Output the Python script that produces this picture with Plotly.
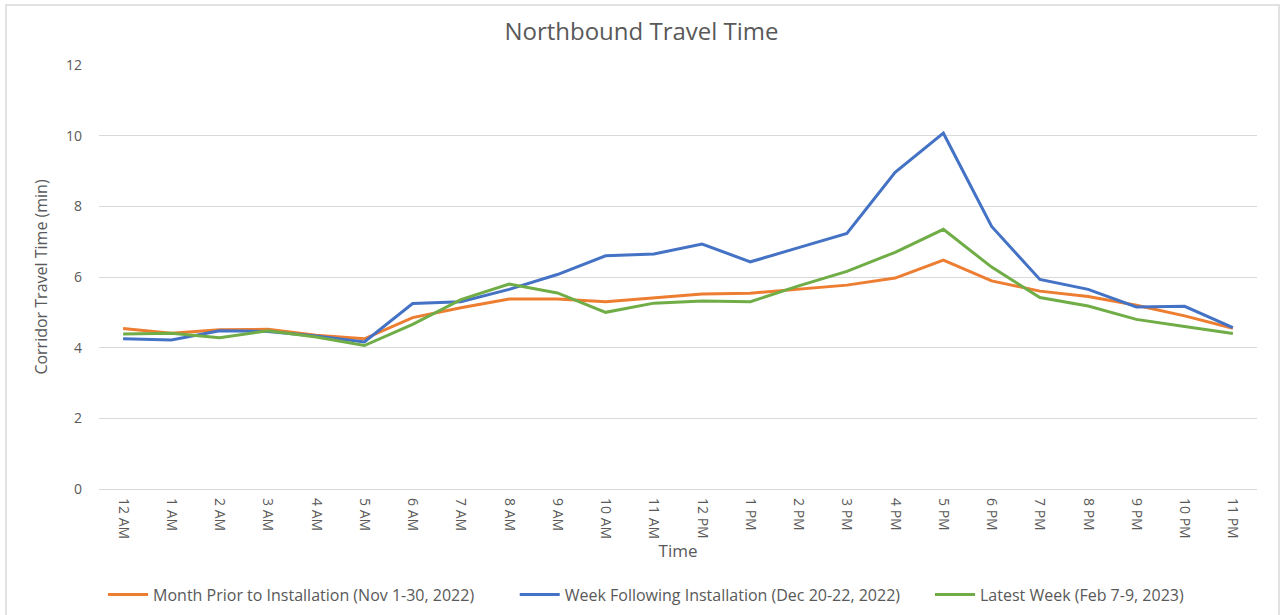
import plotly.graph_objects as go

# hourly corridor travel times (minutes)
hours = ["12 AM", "1 AM", "2 AM", "3 AM", "4 AM", "5 AM", "6 AM", "7 AM", "8 AM", "9 AM",
         "10 AM", "11 AM", "12 PM", "1 PM", "2 PM", "3 PM", "4 PM", "5 PM", "6 PM", "7 PM",
         "8 PM", "9 PM", "10 PM", "11 PM"]

month_prior = [4.54, 4.41, 4.51, 4.52, 4.35, 4.25, 4.85, 5.13, 5.38, 5.38,
               5.30, 5.41, 5.52, 5.54, 5.65, 5.77, 5.97, 6.48, 5.89, 5.60,
               5.45, 5.20, 4.90, 4.55]
week_following = [4.25, 4.22, 4.48, 4.46, 4.33, 4.16, 5.25, 5.30, 5.65, 6.07,
                  6.60, 6.65, 6.93, 6.43, 6.83, 7.23, 8.96, 10.07, 7.43, 5.93,
                  5.65, 5.15, 5.17, 4.57]
latest_week = [4.39, 4.41, 4.28, 4.48, 4.30, 4.06, 4.66, 5.36, 5.80, 5.55,
               5.00, 5.26, 5.32, 5.30, 5.75, 6.16, 6.70, 7.35, 6.28, 5.42,
               5.18, 4.80, 4.60, 4.40]

series_names = ["Month Prior to Installation (Nov 1-30, 2022)",
                "Week Following Installation (Dec 20-22, 2022)",
                "Latest Week (Feb 7-9, 2023)"]
colors = ["#ED7D31", "#4472C4", "#70AD47"]

text_color = "#595959"
grid_color = "#d9d9d9"
font_family = "Open Sans, sans-serif"

# one legend per series so each entry sits where the original puts it
legend_ids = ["legend", "legend2", "legend3"]
legend_x = [0.0035, 0.359, 0.7176]

fig = go.Figure()
for name, vals, col, lg in zip(series_names, [month_prior, week_following, latest_week],
                               colors, legend_ids):
    fig.add_trace(go.Scatter(x=hours, y=vals, mode="lines", name=name, legend=lg,
                             showlegend=True, line=dict(color=col, width=3)))

fig.update_xaxes(type="category", range=[-0.5, 23.5], tickangle=90,
                 showgrid=False, showline=False, ticks="", automargin=False,
                 ticklabelstandoff=8,
                 tickfont=dict(size=14, color=text_color),
                 title=dict(text="Time", font=dict(size=17, color=text_color), standoff=6))
fig.update_yaxes(range=[0, 12], dtick=2, gridcolor=grid_color, gridwidth=1,
                 zeroline=True, zerolinecolor=grid_color, zerolinewidth=1,
                 showline=False, ticks="", ticklabelstandoff=16, automargin=False,
                 tickfont=dict(size=14, color=text_color),
                 title=dict(text="Corridor Travel Time (min)",
                            font=dict(size=16, color=text_color), standoff=14))

legend_style = dict(orientation="h", xanchor="left", yref="container", y=0.033,
                    yanchor="middle", font=dict(size=16, color=text_color), itemwidth=40,
                    bgcolor="rgba(0,0,0,0)", visible=True)

fig.update_layout(
    width=1283, height=615,
    showlegend=True,
    paper_bgcolor="white", plot_bgcolor="white",
    font=dict(family=font_family, color=text_color),
    margin=dict(l=99, r=26, t=65, b=126),
    title=dict(text="Northbound Travel Time", x=0.5, xanchor="center",
               y=0.948, yanchor="middle", font=dict(size=24, color=text_color)),
    shapes=[dict(type="rect", xref="paper", yref="paper",
                 x0=-0.0803, x1=1.019, y0=-0.4, y1=1.1415,
                 line=dict(color=grid_color, width=1.5), layer="below")],
)
for lg, lx in zip(legend_ids, legend_x):
    fig.update_layout({lg: dict(legend_style, x=lx)})

# drop the page's default body margin so the figure sits at the window's corner
fig.write_html("out.html", config={"displayModeBar": False},
               post_script="document.body.style.margin='0';")
